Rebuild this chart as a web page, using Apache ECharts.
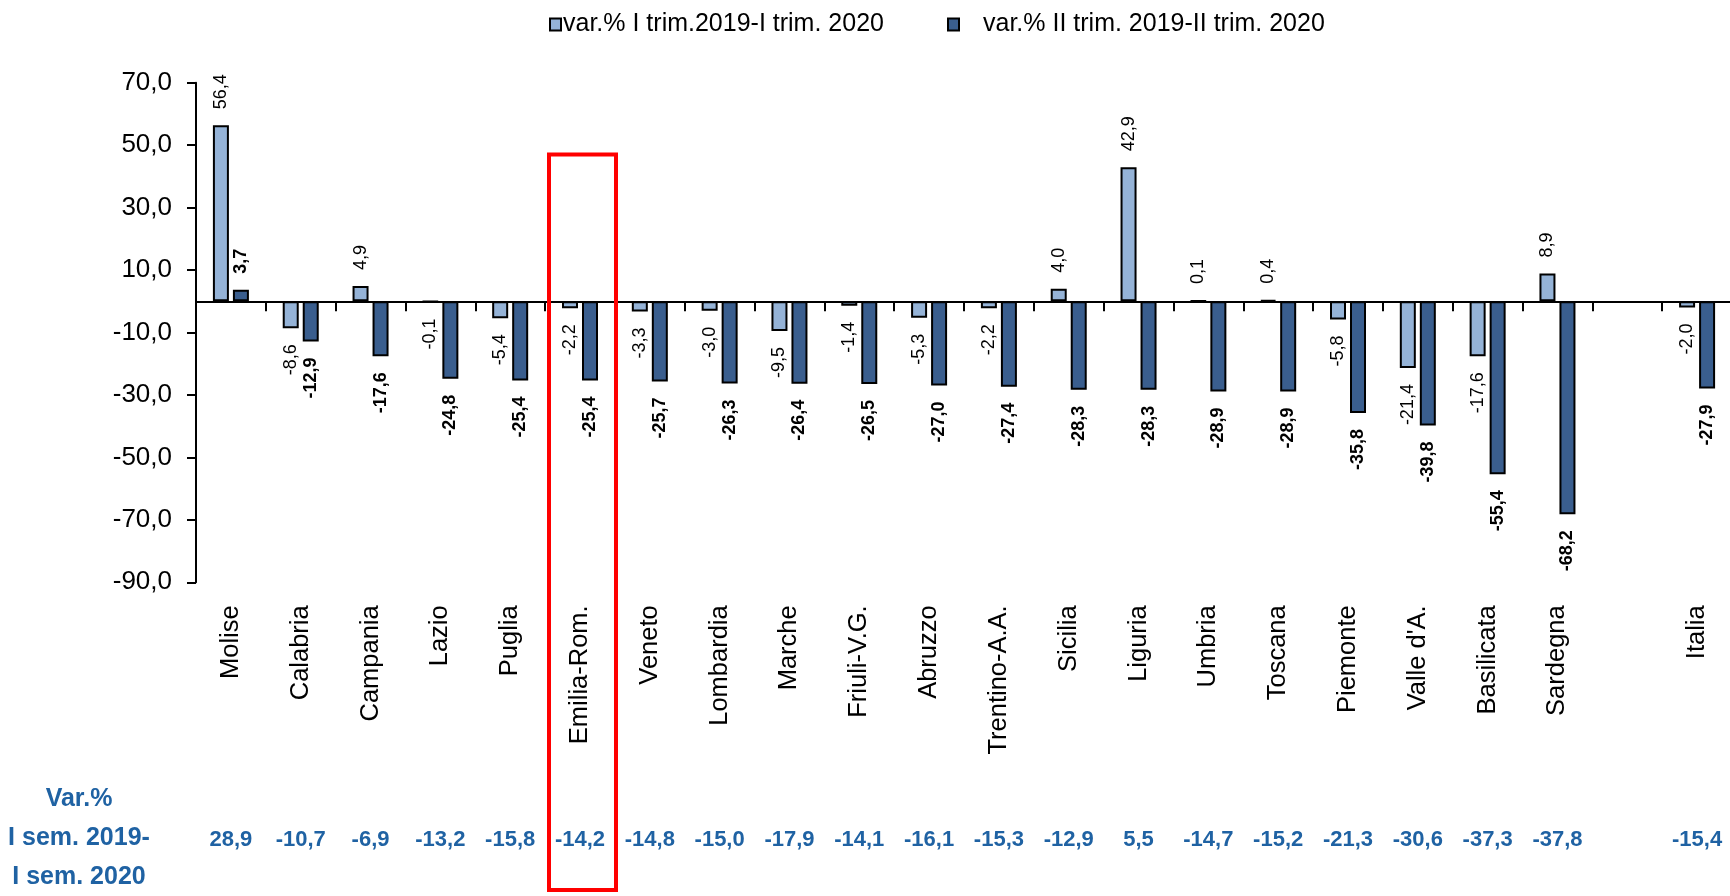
<!DOCTYPE html>
<html>
<head>
<meta charset="utf-8">
<title>Var.% regioni</title>
<script src="https://cdn.jsdelivr.net/npm/echarts@6/dist/echarts.min.js"></script>
<style>
  html, body { margin: 0; padding: 0; background: #fff; }
  #chart { width: 1730px; height: 896px; }
</style>
</head>
<body>
<div id="chart"></div>
<script>
// categorie: lo slot vuoto separa le regioni dall'Italia
const regioni = ['Molise', 'Calabria', 'Campania', 'Lazio', 'Puglia', 'Emilia-Rom.', 'Veneto',
  'Lombardia', 'Marche', 'Friuli-V.G.', 'Abruzzo', 'Trentino-A.A.', 'Sicilia', 'Liguria',
  'Umbria', 'Toscana', 'Piemonte', "Valle d'A.", 'Basilicata', 'Sardegna', '', 'Italia']

// var.% I trim.2019-I trim. 2020
const varTrim1 = [56.4, -8.6, 4.9, -0.1, -5.4, -2.2, -3.3, -3.0, -9.5, -1.4, -5.3,
  -2.2, 4.0, 42.9, 0.1, 0.4, -5.8, -21.4, -17.6, 8.9, null, -2.0]

// var.% II trim. 2019-II trim. 2020
const varTrim2 = [3.7, -12.9, -17.6, -24.8, -25.4, -25.4, -25.7, -26.3, -26.4, -26.5, -27.0,
  -27.4, -28.3, -28.3, -28.9, -28.9, -35.8, -39.8, -55.4, -68.2, null, -27.9]

// Var.% I sem. 2019-I sem. 2020 (riga in basso)
const varSem1 = [28.9, -10.7, -6.9, -13.2, -15.8, -14.2, -14.8, -15.0, -17.9, -14.1, -16.1,
  -15.3, -12.9, 5.5, -14.7, -15.2, -21.3, -30.6, -37.3, -37.8, null, -15.4]

// asse y
const yMin = -90
const yMax = 70
const yStep = 20

const NOME1 = 'var.% I trim.2019-I trim. 2020'
const NOME2 = 'var.% II trim. 2019-II trim. 2020'
const FONT = "'Liberation Sans', Arial, sans-serif"
const BLU = '#1f62a3'

const fmt = v => v.toFixed(1).replace('.', ',')

// etichette ruotate: sopra la barra se positiva, sotto se negativa
function barData(values) {
  return values.map(v => v == null ? null : {
    value: v,
    label: { position: v >= 0 ? 'top' : 'bottom', align: v >= 0 ? 'left' : 'right' },
  })
}

function barSeries(name, values, color, bold) {
  return {
    name: name,
    type: 'bar',
    xAxisIndex: 0,
    barWidth: 16,
    barGap: '25%',
    itemStyle: { color: color, borderColor: '#000', borderWidth: 2 },
    label: {
      show: true,
      rotate: 90,
      verticalAlign: 'middle',
      distance: 16,
      fontFamily: FONT,
      fontSize: 18,
      fontWeight: bold ? 'bold' : 'normal',
      color: '#000',
      formatter: p => fmt(p.value),
    },
    data: barData(values),
  }
}

const chart = echarts.init(document.getElementById('chart'))

const option = {
  animation: false,
  backgroundColor: '#fff',
  grid: { left: 196, right: -2, top: 82.7, height: 499.6, outerBoundsMode: 'none' },
  legend: [
    {
      data: [NOME1], left: 549, top: 12, padding: 0, icon: 'rect', itemWidth: 11, itemHeight: 12,
      textStyle: { fontFamily: FONT, fontSize: 25, color: '#000', padding: [0, 0, 0, -3] },
    },
    {
      data: [NOME2], left: 947, top: 12, padding: 0, icon: 'rect', itemWidth: 11, itemHeight: 12,
      textStyle: { fontFamily: FONT, fontSize: 25, color: '#000', padding: [0, 0, 0, 19] },
    },
  ],
  xAxis: [
    { // asse sullo zero con le tacche
      type: 'category',
      data: regioni,
      axisLine: { onZero: true, lineStyle: { color: '#000', width: 2 } },
      axisTick: { show: true, interval: 0, length: 10, lineStyle: { color: '#000', width: 2 } },
      axisLabel: { show: false },
    },
    { // nomi delle regioni in basso
      type: 'category',
      data: regioni,
      position: 'bottom',
      axisLine: { show: false, onZero: false },
      axisTick: { show: false },
      axisLabel: { interval: 0, rotate: 90, margin: 23, fontFamily: FONT, fontSize: 25.5, color: '#000' },
    },
    { // riga var.% semestrale
      type: 'category',
      data: regioni,
      position: 'bottom',
      offset: 258,
      axisLine: { show: false, onZero: false },
      axisTick: { show: false },
      axisLabel: {
        interval: 0, margin: 0, verticalAlign: 'middle',
        fontFamily: FONT, fontSize: 22, fontWeight: 'bold', color: BLU,
        formatter: (v, i) => varSem1[i] == null ? '' : fmt(varSem1[i]),
      },
    },
  ],
  yAxis: {
    type: 'value',
    min: yMin,
    max: yMax,
    interval: yStep,
    axisLine: { show: true, lineStyle: { color: '#000', width: 2 } },
    axisTick: { show: true, length: 9, lineStyle: { color: '#000', width: 2 } },
    splitLine: { show: false },
    axisLabel: { margin: 24, fontFamily: FONT, fontSize: 26, color: '#000', formatter: v => fmt(v) },
  },
  series: [
    barSeries(NOME1, varTrim1, '#95b3d7', false),
    barSeries(NOME2, varTrim2, '#3a5e8e', true),
  ],
}

chart.setOption(option)

// riquadro rosso attorno a Emilia-Rom. e titolo della riga in basso
const xc = chart.convertToPixel({ xAxisIndex: 0 }, 'Emilia-Rom.')
chart.setOption({
  graphic: [
    {
      type: 'rect',
      shape: { x: xc - 31, y: 154.5, width: 67, height: 735.5 },
      style: { fill: 'none', stroke: '#ff0000', lineWidth: 4 },
      z: 10,
    },
    {
      type: 'text',
      x: 79,
      y: 838,
      style: {
        text: 'Var.%\nI sem. 2019-\nI sem. 2020',
        align: 'center',
        verticalAlign: 'middle',
        lineHeight: 39,
        fontFamily: FONT,
        fontSize: 25,
        fontWeight: 'bold',
        fill: BLU,
      },
    },
  ],
})
</script>
</body>
</html>
